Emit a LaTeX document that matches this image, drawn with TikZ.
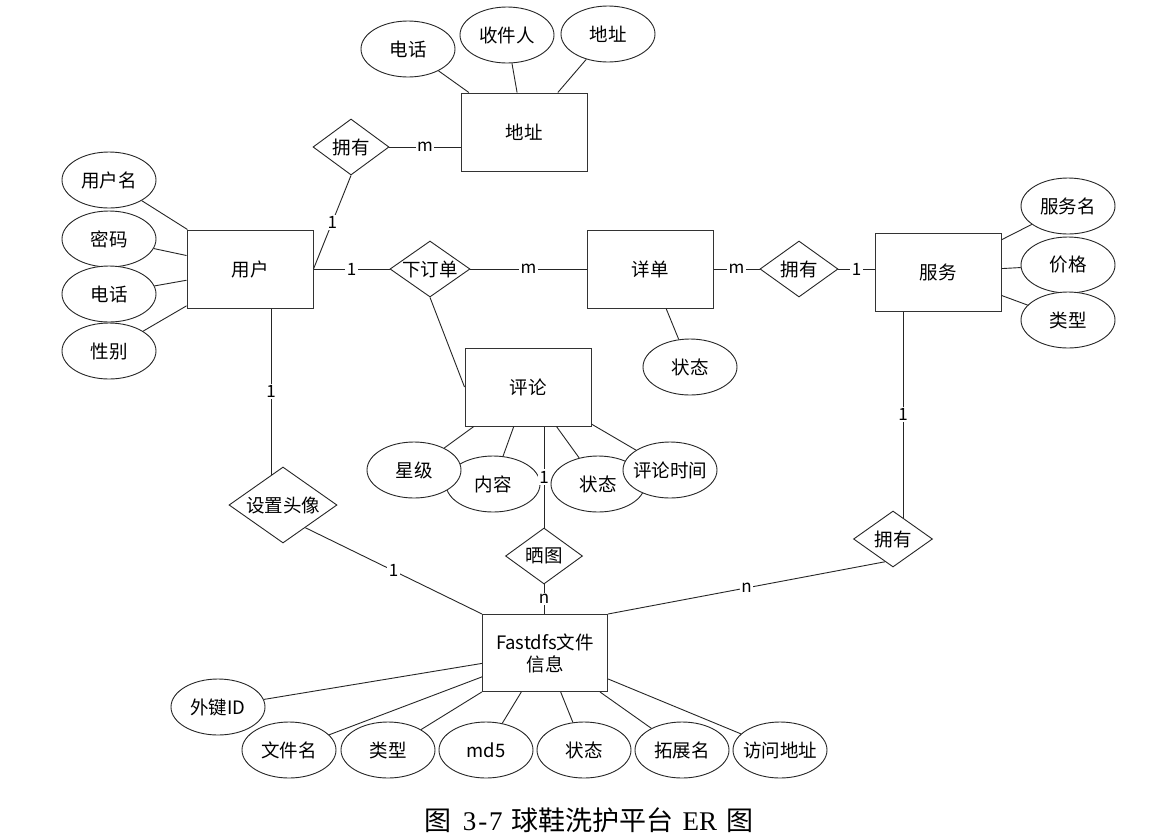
\documentclass[tikz,border=0pt]{standalone}
\usepackage{fontspec}
\setmainfont{Noto Sans CJK SC}
\newfontfamily\capser{Liberation Serif}
\usetikzlibrary{shapes.geometric,calc}
\begin{document}
\begin{tikzpicture}[x=1pt,y=-1pt,
  every node/.style={font=\fontsize{18.5}{22}\selectfont},
  conn/.style={draw=black!85, line width=0.9pt},
  ent/.style={draw=black!80, line width=1pt, rectangle, minimum width=126pt, minimum height=78pt, fill=white, inner sep=0pt},
  attr/.style={draw=black!85, line width=0.9pt, ellipse, minimum width=94pt, minimum height=56pt, fill=white, inner sep=-8pt},
  rel/.style={draw=black!85, line width=0.9pt, diamond, shape aspect=1.4, inner sep=-2pt, fill=white},
  lbl/.style={fill=white, inner sep=1.5pt, font=\fontsize{17}{17}\selectfont}]
\useasboundingbox (0,0) rectangle (1176,839);
\fill[white] (0,0) rectangle (1176,839);

% entities
\node[ent] (addr) at (524,132) {地址};
\node[ent] (user) at (250,269) {用户};
\node[ent] (detail) at (650,269) {详单};
\node[ent] (svc) at (938,272) {服务};
\node[ent] (cmt) at (528,387) {评论};
\node[ent, minimum width=125pt, minimum height=77pt, align=center] (fdfs) at (545,653) {Fastdfs文件\\信息};

% relations
\node[rel, minimum width=76pt, minimum height=56pt] (own1) at (351,147) {拥有};
\node[rel, minimum width=80pt, minimum height=56pt] (order) at (430,269) {下订单};
\node[rel, minimum width=78pt, minimum height=56pt] (own2) at (799,269) {拥有};
\node[rel, minimum width=108pt, minimum height=76pt] (avatar) at (283,505) {设置头像};
\node[rel, minimum width=77pt, minimum height=56pt] (shai) at (544,556) {晒图};
\node[rel, minimum width=79pt, minimum height=56pt] (own3) at (893,539) {拥有};

% attributes of 地址
\node[attr] (aphone) at (408,49) {电话};
\node[attr] (arecv) at (507,35) {收件人};
\node[attr] (aaddr) at (608,34) {地址};
% attributes of 用户
\node[attr] (uname) at (109,180) {用户名};
\node[attr] (upwd) at (109,239) {密码};
\node[attr] (uphone) at (109,294) {电话};
\node[attr] (usex) at (109,351) {性别};
% attributes of 服务
\node[attr] (sname) at (1068,206) {服务名};
\node[attr] (sprice) at (1068,265) {价格};
\node[attr] (stype) at (1068,320) {类型};
% attribute of 详单
\node[attr] (dstate) at (690,367) {状态};
% attributes of 评论
\node[attr] (ccontent) at (493,484) {内容};
\node[attr] (cstar) at (414,470) {星级};
\node[attr] (cstate) at (598,484) {状态};
\node[attr] (ctime) at (670,470) {评论时间};
% attributes of Fastdfs
\node[attr] (fkey) at (218,707) {外键ID};
\node[attr] (fname) at (289,750) {文件名};
\node[attr] (ftype) at (388,750) {类型};
\node[attr] (fmd5) at (486,750) {md5};
\node[attr] (fstate) at (584,750) {状态};
\node[attr] (fext) at (682,750) {拓展名};
\node[attr] (furl) at (780,750) {访问地址};

% attribute links
\foreach \a/\b in {aphone/addr, arecv/addr, aaddr/addr,
  uname/user, upwd/user, uphone/user, usex/user,
  sname/svc, sprice/svc, stype/svc, dstate/detail,
  cstar/cmt, ccontent/cmt, cstate/cmt, ctime/cmt,
  fkey/fdfs, fname/fdfs, ftype/fdfs, fmd5/fdfs, fstate/fdfs, fext/fdfs, furl/fdfs}
  \draw[conn] (\a) -- (\b);

% relationship links
\draw[conn] (own1.east) -- node[lbl]{m} (own1.east -| addr.west);
\draw[conn] (own1.south) -- node[lbl]{1} (user.east);
\draw[conn] (user.east) -- node[lbl]{1} (order.west);
\draw[conn] (order.east) -- node[lbl]{m} (detail.west);
\draw[conn] (order.south) -- (cmt.west);
\draw[conn] (detail.east) -- node[lbl]{m} (own2.west);
\draw[conn] (own2.east) -- node[lbl]{1} (own2.east -| svc.west);
\coordinate (a1) at ($(own3.north)!0.25!(own3.east)$);
\draw[conn] (svc.south -| a1) -- node[lbl]{1} (a1);
\coordinate (a1b) at ($(own3.west)!0.8!(own3.south)$);
\draw[conn] (a1b) -- node[lbl]{n} (fdfs.north east);
\coordinate (a2) at ($(avatar.north)!0.22!(avatar.west)$);
\draw[conn] (user.south -| a2) -- node[lbl]{1} (a2);
\coordinate (a2b) at ($(avatar.east)!0.59!(avatar.south)$);
\draw[conn] (a2b) -- node[lbl]{1} (fdfs.north west);
\draw[conn] (cmt.south -| shai.north) -- node[lbl]{1} (shai.north);
\draw[conn] (shai.south) -- node[lbl]{n} (shai.south |- fdfs.north);

% caption
\node[font=\fontsize{27}{30}\selectfont] (cap) at (589,820)
  {图\hspace{11pt}{\capser 3\kern2pt-\kern2pt7}\hspace{9pt}球鞋洗护平台\hspace{9pt}{\capser ER}\hspace{9pt}图};
\end{tikzpicture}
\end{document}
